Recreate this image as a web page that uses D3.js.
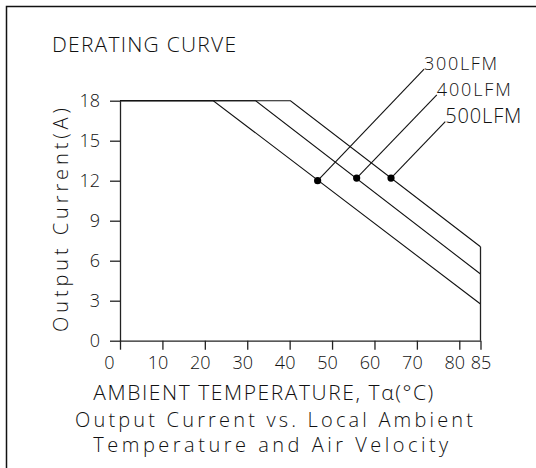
<!DOCTYPE html>
<html>
<head>
<meta charset="utf-8">
<script src="https://cdn.jsdelivr.net/npm/d3@7"></script>
<style>
  body { margin: 0; background: #fff; }
  text { font-family: "Open Sans", "Liberation Sans", sans-serif; font-weight: 300; fill: #111; }
</style>
</head>
<body>
<svg id="chart" width="536" height="468"></svg>
<script>
// values
var xTicks = [0, 10, 20, 30, 40, 50, 60, 70, 80, 85];
var yTicks = [0, 3, 6, 9, 12, 15, 18];
var seriesNames = ["300LFM", "400LFM", "500LFM"];
var temps300 = [0, 22, 85];
var amps300 = [18, 18, 2.75];
var temps400 = [0, 32, 85];
var amps400 = [18, 18, 5.0];
var temps500 = [0, 40.2, 85];
var amps500 = [18, 18, 7.05];
var dotTemps = [46.6, 55.8, 63.9];
var dotAmps = [12.0, 12.2, 12.2];
// where the leader lines end (data units)
var labelTemps = [71.7, 74.7, 76.7];
var labelAmps = [20.36, 18.43, 16.43];

var svg = d3.select("#chart");

var x = d3.scaleLinear().domain([0, 85]).range([120, 480.5]);
var y = d3.scaleLinear().domain([0, 18]).range([340.7, 100.7]);

// frame
svg.append("path")
  .attr("d", "M6.5,468V6.5H536")
  .attr("fill", "none")
  .attr("stroke", "#111")
  .attr("stroke-width", 1.5);

// axes
var xAxis = svg.append("g")
  .attr("transform", "translate(0," + y(0) + ")")
  .call(d3.axisBottom(x).tickValues(xTicks).tickSize(9).tickSizeOuter(0).tickPadding(7)
    .tickFormat(d3.format("d")));
xAxis.selectAll("text")
  .attr("dx", function(d) { return d === 0 ? -11 : (d === 85 ? 0 : -5); });

var yAxis = svg.append("g")
  .attr("transform", "translate(" + x(0) + ",0)")
  .call(d3.axisLeft(y).tickValues(yTicks).tickSize(10).tickSizeOuter(0).tickPadding(10));

svg.selectAll(".domain, .tick line").attr("stroke", "#222").attr("stroke-width", 1.3);
svg.selectAll(".tick text").attr("fill", "#111").attr("font-size", 18)
  .style("font-family", "\"Open Sans\", sans-serif").style("font-weight", 300);

// curves
var line = d3.line().x(function(d) { return x(d[0]); }).y(function(d) { return y(d[1]); });
var curves = [d3.zip(temps300, amps300), d3.zip(temps400, amps400), d3.zip(temps500, amps500)];
svg.selectAll("path.curve").data(curves).enter().append("path")
  .attr("class", "curve")
  .attr("d", line)
  .attr("fill", "none")
  .attr("stroke", "#111")
  .attr("stroke-width", 1.1);

// right edge at 85 degrees
svg.append("path")
  .attr("d", line([[85, 0], [85, d3.max([amps300[2], amps400[2], amps500[2]])]]))
  .attr("fill", "none")
  .attr("stroke", "#222")
  .attr("stroke-width", 1.3);

// leaders, dots and labels
var idx = d3.range(seriesNames.length);
svg.selectAll("line.leader").data(idx).enter().append("line")
  .attr("x1", function(i) { return x(dotTemps[i]); })
  .attr("y1", function(i) { return y(dotAmps[i]); })
  .attr("x2", function(i) { return x(labelTemps[i]); })
  .attr("y2", function(i) { return y(labelAmps[i]); })
  .attr("stroke", "#111")
  .attr("stroke-width", 1.1);

svg.selectAll("circle.dot").data(idx).enter().append("circle")
  .attr("cx", function(i) { return x(dotTemps[i]); })
  .attr("cy", function(i) { return y(dotAmps[i]); })
  .attr("r", 3.6)
  .attr("fill", "#000");

var labelW = [73, 74, 76];
var labelSize = [18, 18, 20];
svg.selectAll("text.lfm").data(idx).enter().append("text")
  .attr("x", function(i) { return x(labelTemps[i]); })
  .attr("y", function(i) { return y(labelAmps[i]) + 1; })
  .attr("font-size", function(i) { return labelSize[i]; })
  .attr("textLength", function(i) { return labelW[i]; })
  .attr("lengthAdjust", "spacing")
  .text(function(i) { return seriesNames[i]; });

// titles
svg.append("text")
  .attr("x", 52).attr("y", 51.7)
  .attr("font-size", 21)
  .attr("textLength", 184).attr("lengthAdjust", "spacing")
  .text("DERATING CURVE");

svg.append("text")
  .attr("transform", "translate(68,220) rotate(-90)")
  .attr("text-anchor", "middle")
  .attr("font-size", 20)
  .attr("textLength", 224).attr("lengthAdjust", "spacing")
  .text("Output Current(A)");

svg.append("text")
  .attr("x", 93.3).attr("y", 400)
  .attr("font-size", 21)
  .attr("textLength", 340).attr("lengthAdjust", "spacing")
  .text("AMBIENT TEMPERATURE, T\u03b1(\u00b0C)");

svg.append("text")
  .attr("x", 75).attr("y", 426.7)
  .attr("font-size", 20)
  .attr("textLength", 398).attr("lengthAdjust", "spacing")
  .text("Output Current vs. Local Ambient");

svg.append("text")
  .attr("x", 93.3).attr("y", 451.7)
  .attr("font-size", 20)
  .attr("textLength", 355).attr("lengthAdjust", "spacing")
  .text("Temperature and Air Velocity");
</script>
</body>
</html>
